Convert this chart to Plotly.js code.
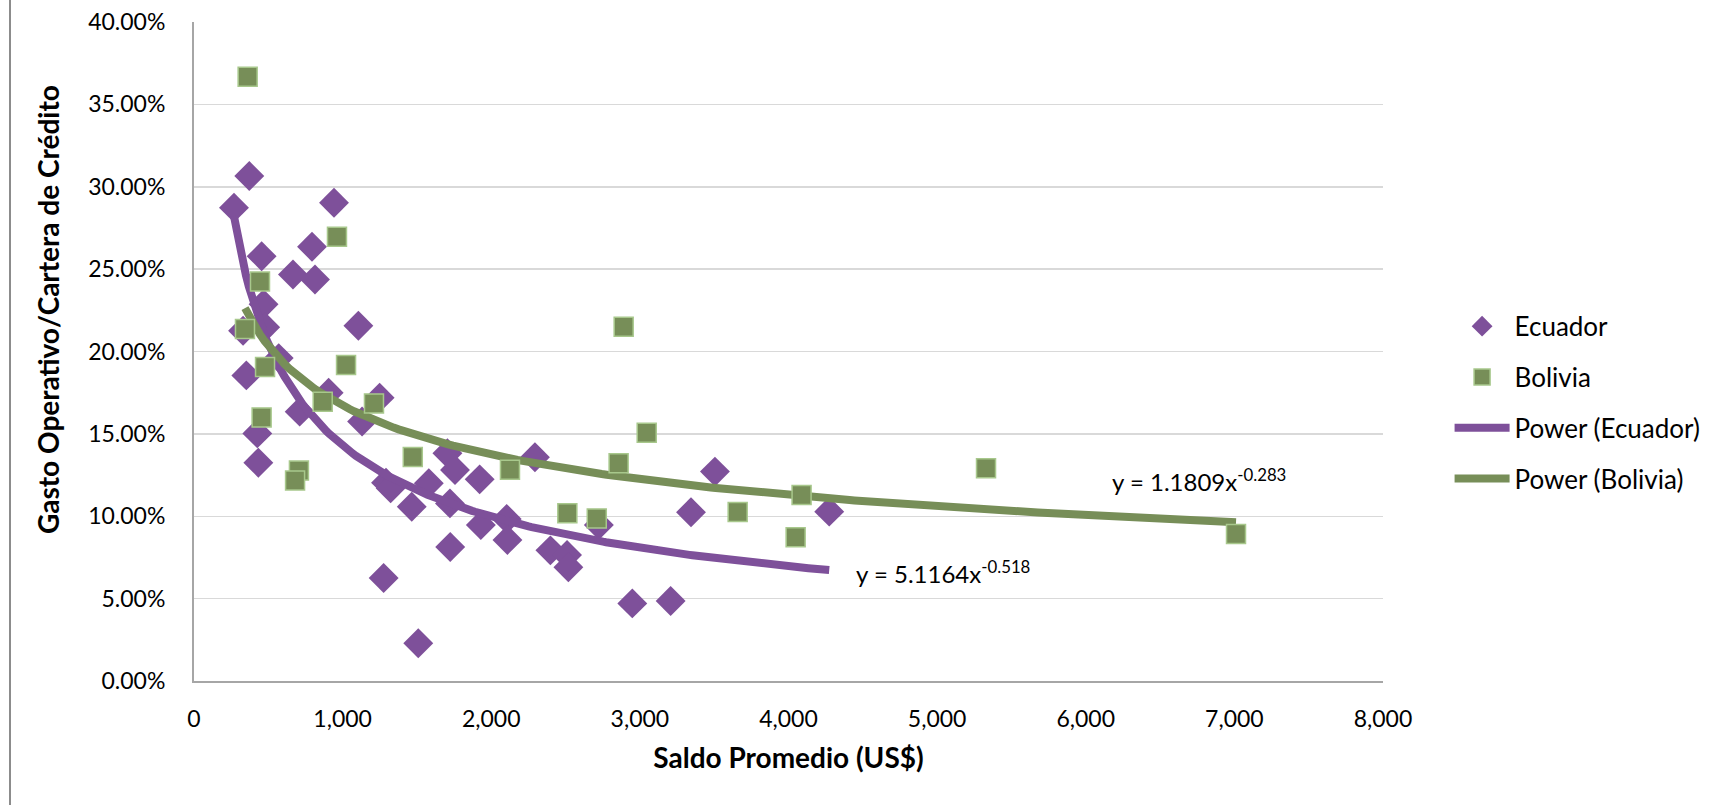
<!DOCTYPE html>
<html>
<head>
<meta charset="utf-8">
<script src="https://cdn.plot.ly/plotly-3.0.1.min.js"></script>
<style>html,body{margin:0;padding:0;background:#fff;}#chart{width:1721px;height:805px;}</style>
</head>
<body>
<div id="chart"></div>
<script>
// ---- data ----
const ecuadorX = [269, 372, 942, 455, 794, 666, 814, 468, 479, 330, 1106, 352, 570, 906, 1249, 711, 1131, 426, 433, 1705, 1756, 1922, 2294, 1292, 1323, 1580, 1465, 1722, 1930, 2104, 2109, 1724, 2398, 2510, 2519, 2724, 1276, 1509, 2949, 3207, 3505, 3344, 4274];
const ecuadorY = [0.2873, 0.3065, 0.2903, 0.2578, 0.2636, 0.2467, 0.2437, 0.2287, 0.2147, 0.2126, 0.2156, 0.1855, 0.1960, 0.1750, 0.1720, 0.1635, 0.1575, 0.1503, 0.1325, 0.1382, 0.1281, 0.1224, 0.1358, 0.1204, 0.1170, 0.1200, 0.1058, 0.1078, 0.0947, 0.0984, 0.0856, 0.0813, 0.0793, 0.0765, 0.0690, 0.0947, 0.0625, 0.0229, 0.0471, 0.0486, 0.1271, 0.1024, 0.1028];
const boliviaX = [361, 962, 444, 343, 478, 455, 706, 680, 866, 1023, 1211, 1472, 2126, 2512, 2710, 2891, 2857, 3046, 3658, 4088, 4048, 5329, 7011];
const boliviaY = [0.3668, 0.2697, 0.2425, 0.2137, 0.1906, 0.1600, 0.1277, 0.1217, 0.1695, 0.1918, 0.1685, 0.1360, 0.1283, 0.1018, 0.0987, 0.2150, 0.1321, 0.1507, 0.1026, 0.1129, 0.0872, 0.1291, 0.0892];
// power trendline coefficients as printed on the chart: y = a * x^b
const ecuadorFit = [5.1164, -0.518];
const boliviaFit = [1.1809, -0.283];
const seriesNames = ['Ecuador', 'Bolivia', 'Power (Ecuador)', 'Power (Bolivia)'];
const xTickVals = [0, 1000, 2000, 3000, 4000, 5000, 6000, 7000, 8000];
const yTickVals = [0, 0.05, 0.10, 0.15, 0.20, 0.25, 0.30, 0.35, 0.40];

// ---- trendline curves across the range of each series ----
function powerCurve(xs, fit) {
  const lo = Math.min(...xs), hi = Math.max(...xs);
  const n = 200, cx = [], cy = [];
  for (let i = 0; i <= n; i++) {
    const x = lo + (hi - lo) * i / n;
    cx.push(x); cy.push(fit[0] * Math.pow(x, fit[1]));
  }
  return {cx, cy};
}
const ecCurve = powerCurve(ecuadorX, ecuadorFit);
const boCurve = powerCurve(boliviaX, boliviaFit);

const PURPLE = '#7E509A';
const GREEN = '#778E58';
const GREEN_EDGE = '#A8C88C';
const FONT = 'Lato, "Open Sans", sans-serif';

const traces = [
  {x: ecuadorX, y: ecuadorY, name: seriesNames[0], type: 'scatter', mode: 'markers', legendrank: 1, legendgroup: 'g1',
   marker: {symbol: 'diamond', size: 23, color: PURPLE, line: {width: 0}}},
  {x: ecCurve.cx, y: ecCurve.cy, name: seriesNames[2], type: 'scatter', mode: 'lines', legendrank: 3, legendgroup: 'g3',
   line: {color: PURPLE, width: 8}},
  {x: boCurve.cx, y: boCurve.cy, name: seriesNames[3], type: 'scatter', mode: 'lines', legendrank: 4, legendgroup: 'g4',
   line: {color: GREEN, width: 8}},
  {x: boliviaX, y: boliviaY, name: seriesNames[1], type: 'scatter', mode: 'markers', legendrank: 2, legendgroup: 'g2',
   marker: {symbol: 'square', size: 19, color: GREEN, line: {width: 1.5, color: GREEN_EDGE}}}
];

const layout = {
  width: 1721, height: 805,
  margin: {l: 194, r: 338, t: 22, b: 124},
  paper_bgcolor: '#fff', plot_bgcolor: '#fff',
  font: {family: FONT, color: '#000', size: 23},
  showlegend: true,
  legend: {x: 1.056, xanchor: 'left', y: 0.574, yanchor: 'top', font: {size: 26, family: FONT, color: '#000'},
           itemwidth: 55, tracegroupgap: 14, traceorder: 'grouped', bgcolor: 'rgba(0,0,0,0)'},
  xaxis: {range: [0, 8000], tickvals: xTickVals, tickformat: ',d', showgrid: false, zeroline: false,
          showline: true, linecolor: '#A6A6A6', linewidth: 2, ticks: '', ticklabelstandoff: 16,
          tickfont: {size: 23, family: FONT, color: '#000'},
          title: {text: '<b>Saldo Promedio (US$)</b>', font: {size: 28, family: FONT, color: '#000'}, standoff: 18}},
  yaxis: {range: [0, 0.4], tickvals: yTickVals, tickformat: '.2%', showgrid: true, gridcolor: '#D9D9D9', gridwidth: 1.5,
          zeroline: false, showline: true, linecolor: '#A6A6A6', linewidth: 2, ticks: '', ticklabelstandoff: 22,
          tickfont: {size: 23, family: FONT, color: '#000'}},
  annotations: [
    {text: '<b>Gasto Operativo/Cartera de Crédito</b>', xref: 'paper', yref: 'paper',
     x: (48 - 194) / 1189, y: (681 - 310) / 659, xanchor: 'center', yanchor: 'middle', textangle: -90,
     showarrow: false, font: {size: 28, family: FONT, color: '#000'}},
    {text: 'y = 5.1164x<sup>-0.518</sup>', xref: 'x', yref: 'y', x: 5040, y: 0.066,
     xanchor: 'center', yanchor: 'middle', showarrow: false, font: {size: 24, family: FONT, color: '#000'}},
    {text: 'y = 1.1809x<sup>-0.283</sup>', xref: 'x', yref: 'y', x: 6760, y: 0.122,
     xanchor: 'center', yanchor: 'middle', showarrow: false, font: {size: 24, family: FONT, color: '#000'}}
  ],
  shapes: [
    {type: 'line', xref: 'paper', yref: 'paper', x0: (10 - 194) / 1189, x1: (10 - 194) / 1189,
     y0: -124 / 659, y1: 1 + 22 / 659, line: {color: '#8C8C8C', width: 2}}
  ]
};

Plotly.newPlot('chart', traces, layout, {displayModeBar: false, staticPlot: true});
</script>
</body>
</html>
